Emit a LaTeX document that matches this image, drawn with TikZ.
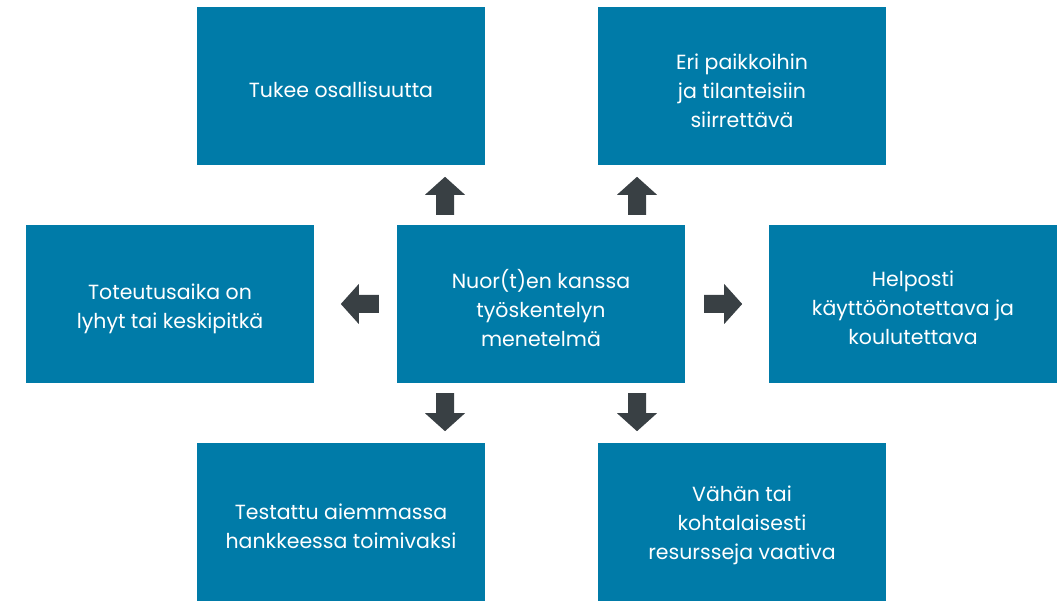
\documentclass[tikz,border=0pt]{standalone}
\usepackage{fontspec}
\setmainfont{Poppins}
\usetikzlibrary{calc}
\definecolor{boxblue}{HTML}{007BA8}
\definecolor{arrowc}{HTML}{394044}
\begin{document}
\begin{tikzpicture}[x=1pt,y=-1pt,
  box/.style={fill=boxblue,minimum width=288pt,minimum height=158pt,inner sep=0pt},
  txt/.style={text=white,align=center,inner sep=0pt,font=\fontsize{20.5}{29}\selectfont},
  blockarrow/.pic={\fill[arrowc] (-19,-9) -- (1,-9) -- (1,-20) -- (19,0) -- (1,20) -- (1,9) -- (-19,9) -- cycle;}]
\useasboundingbox (0,0) rectangle (1060,601);
\node[box] (tl) at (341,86.5) {};
\node[box] (tr) at (742,86.5) {};
\node[box] (ml) at (170,304) {};
\node[box] (c) at (541,304) {};
\node[box] (mr) at (913,304) {};
\node[box] (bl) at (341,521.5) {};
\node[box] (br) at (742,521.5) {};
\node[txt] (tlt) at ($(tl)+(0,3)$) {Tukee osallisuutta};
\node[txt] (trt) at ($(tr)+(0,4)$) {Eri paikkoihin\\ja tilanteisiin\\siirrettävä};
\node[txt] (mlt) at ($(ml)+(0,5)$) {Toteutusaika on\\lyhyt tai keskipitkä};
\node[txt] (ct) at ($(c)+(0,4)$) {Nuor(t)en kanssa\\työskentelyn\\menetelmä};
\node[txt] (mrt) at ($(mr)+(0,4)$) {Helposti\\käyttöönotettava ja\\koulutettava};
\node[txt] (blt) at ($(bl)+(0,5)$) {Testattu aiemmassa\\hankkeessa toimivaksi};
\node[txt] (brt) at ($(br)+(0,4)$) {Vähän tai\\kohtalaisesti\\resursseja vaativa};
\pic[rotate=90] at ($(c.north)+(-96,-29)$) {blockarrow};
\pic[rotate=90] at ($(c.north)+(96,-29)$) {blockarrow};
\pic[rotate=180] at ($(c.west)+(-37,0)$) {blockarrow};
\pic at ($(c.east)+(38,0)$) {blockarrow};
\pic[rotate=-90] at ($(c.south)+(-96,29)$) {blockarrow};
\pic[rotate=-90] at ($(c.south)+(96,29)$) {blockarrow};
\end{tikzpicture}
\end{document}
